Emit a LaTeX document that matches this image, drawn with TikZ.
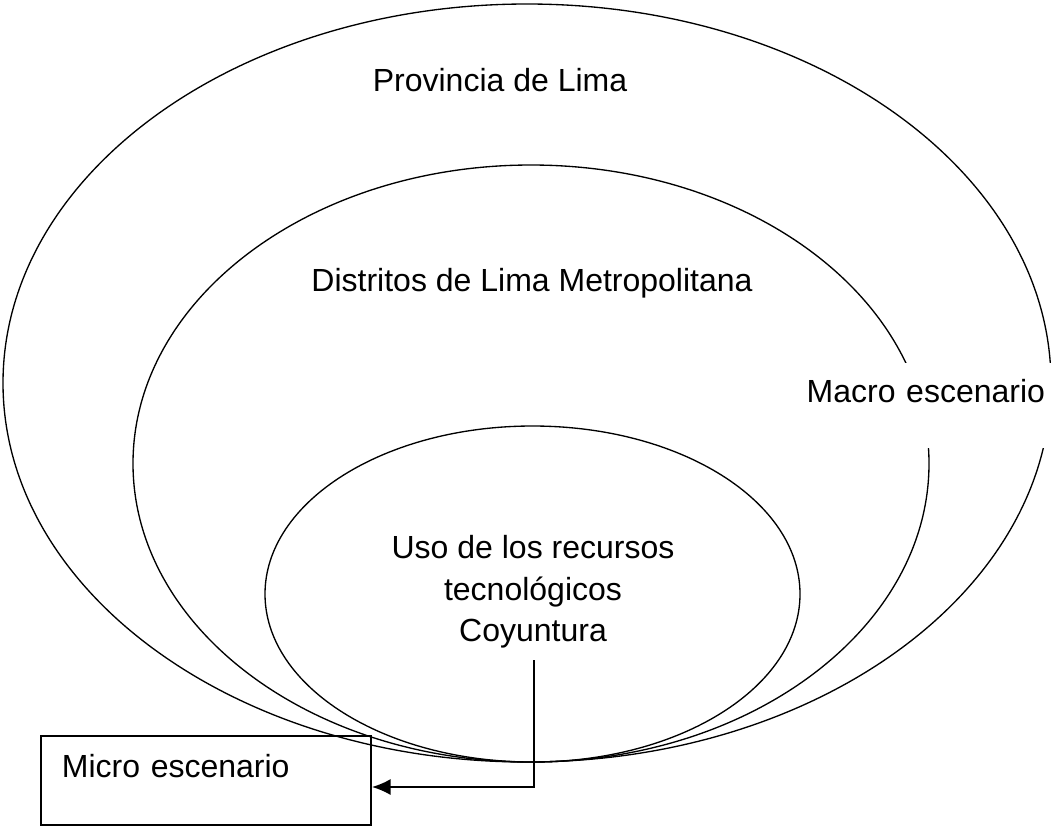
\documentclass[tikz,border=0pt]{standalone}
\usepackage{fontspec}
\setmainfont{Liberation Sans}
\usetikzlibrary{shapes.geometric,arrows.meta}
\begin{document}
\begin{tikzpicture}[x=0.75pt,y=-0.75pt,line width=1pt,
    oval/.style={draw,ellipse,inner sep=0pt},
    txt/.style={font=\fontsize{24}{31}\selectfont,inner sep=0pt,align=center}]
  \useasboundingbox (0,0) rectangle (1052,825);
  \node[oval,minimum width=786pt,minimum height=568.5pt] (lima) at (527,383) {};
  \node[oval,minimum width=597pt,minimum height=447.75pt] (distritos) at (531,463.5) {};
  \node[oval,minimum width=401.25pt,minimum height=252pt] (uso) at (532.5,594) {};
  \node[txt] (limatxt) at (500,80) {Provincia de Lima};
  \node[txt] (distritostxt) at (532,283) {Distritos de Lima Metropolitana};
  \node[txt] (usotxt) at (533,592) {Uso de los recursos\\tecnológicos\\Coyuntura};
  \node[txt,fill=white,anchor=north west,align=left,inner xsep=8.25pt,
    text width=180pt,text height=30pt,text depth=33.75pt] (macro) at (795,362) {Macro escenario};
  \node[txt,draw,line width=1.4pt,anchor=north west,align=left,inner xsep=15.75pt,
    text width=216pt,text height=31.5pt,text depth=35.25pt] (micro) at (40,735) {Micro escenario};
  \coordinate (drop) at (534,660);
  \coordinate (bend) at (534,787);
  \draw[line width=1.4pt,-{Latex[length=14pt,width=12pt]}] (drop) |- (bend -| micro.east);
\end{tikzpicture}
\end{document}
